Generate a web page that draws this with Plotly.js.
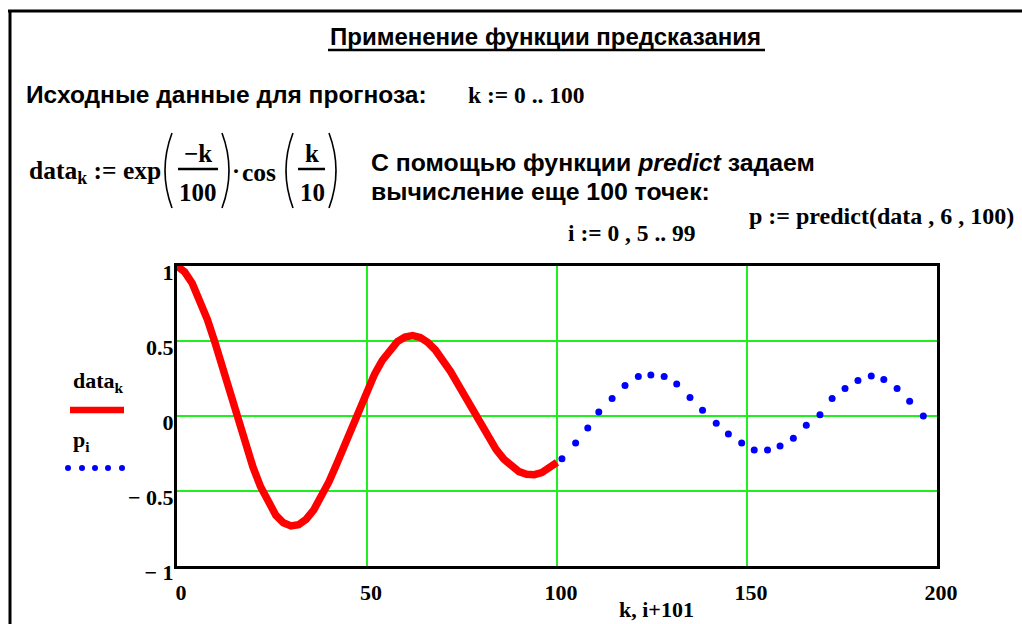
<!DOCTYPE html>
<html>
<head>
<meta charset="utf-8">
<script src="https://cdn.plot.ly/plotly-3.0.1.min.js"></script>
<style>html,body{margin:0;padding:0;background:#fff;}#chart{width:1022px;height:624px;}</style>
</head>
<body>
<div id="chart"></div>
<script>
// ---- data ----
const kValues = [0,2,4,6,8,10,12,14,16,18,20,22,24,26,28,30,32,34,36,38,40,42,44,46,48,50,
  52,54,56,58,60,62,64,66,68,70,72,74,76,78,80,82,84,86,88,90,92,94,96,98,100];
const dataValues = [1.000,0.961,0.885,0.777,0.643,0.489,0.321,0.148,-0.025,-0.190,-0.341,-0.472,
  -0.580,-0.661,-0.712,-0.733,-0.725,-0.688,-0.626,-0.541,-0.438,-0.322,-0.198,-0.071,0.054,0.172,
  0.279,0.370,0.443,0.496,0.527,0.536,0.524,0.491,0.440,0.374,0.296,0.209,0.118,0.025,-0.065,
  -0.149,-0.224,-0.288,-0.337,-0.371,-0.389,-0.391,-0.377,-0.349,-0.309];
const predX = [101.3,104.9,108.1,111.0,114.5,117.9,121.4,124.7,128.2,131.5,135.0,138.3,141.9,145.1,
  148.6,151.9,155.4,158.7,162.2,165.6,169.2,172.4,175.8,179.2,182.7,186.0,189.5,192.8,196.4];
const predValues = [-0.285,-0.180,-0.080,0.027,0.116,0.204,0.264,0.273,0.264,0.213,0.124,0.038,
  -0.049,-0.120,-0.180,-0.227,-0.227,-0.200,-0.149,-0.062,0.009,0.116,0.184,0.236,0.267,0.244,
  0.184,0.098,0.000];
const xTickVals = [0,50,100,150,200];
const xTickText = ['0','50','100','150','200'];
const yTickVals = [-1,-0.5,0,0.5,1];
const yTickText = ['\u2212 1','\u2212 0.5','0','0.5','1'];

// ---- layout helpers (pixel -> paper) ----
const L = 177, R = 937, T = 266, B = 566;
const px = x => (x - L) / (R - L);
const py = y => (B - y) / (B - T);
const SANS = 'Liberation Sans, Arial, sans-serif';
const SERIF = 'Liberation Serif, Times New Roman, serif';

function txt(text, x, y, size, family, xanchor) {
  return {
    text: text, x: px(x), y: py(y), xref: 'paper', yref: 'paper',
    xanchor: xanchor || 'left', yanchor: 'middle', showarrow: false,
    font: {family: family, size: size, color: '#000', weight: 'bold'}
  };
}
function hline(x0, x1, y, w) {
  return {type: 'line', xref: 'paper', yref: 'paper', x0: px(x0), x1: px(x1), y0: py(y), y1: py(y),
    line: {color: '#000', width: w}};
}
function vline(x, y0, y1, w) {
  return {type: 'line', xref: 'paper', yref: 'paper', x0: px(x), x1: px(x), y0: py(y0), y1: py(y1),
    line: {color: '#000', width: w}};
}
function paren(xTop, xMid, yTop, yBot) {
  const yMid = (yTop + yBot) / 2;
  return {type: 'path', xref: 'paper', yref: 'paper',
    path: 'M ' + px(xTop) + ',' + py(yTop) + ' Q ' + px(xMid) + ',' + py(yMid) + ' ' + px(xTop) + ',' + py(yBot),
    line: {color: '#000', width: 1.6}};
}
function dot(x, y, r, color) {
  return {type: 'circle', xref: 'paper', yref: 'paper', x0: px(x - r), x1: px(x + r),
    y0: py(y + r), y1: py(y - r), fillcolor: color, line: {width: 0}};
}

const traces = [
  {x: kValues, y: dataValues, type: 'scatter', mode: 'lines',
   line: {color: '#ff0000', width: 7.5}, hoverinfo: 'skip'},
  {x: predX, y: predValues, type: 'scatter', mode: 'markers',
   marker: {color: '#0000ff', size: 7}, hoverinfo: 'skip'}
];

const shapes = [
  hline(8, 1022, 11, 3),
  vline(10, 10, 624, 3),
  hline(328, 765, 50, 2.5),
  paren(172, 158, 133, 208),
  paren(222, 236, 133, 208),
  hline(178, 218, 169, 2.5),
  paren(293, 279, 133, 208),
  paren(329, 343, 133, 208),
  hline(298, 325, 169, 2.5),
  {type: 'line', xref: 'paper', yref: 'paper', x0: px(70), x1: px(124), y0: py(410), y1: py(410),
   line: {color: '#ff0000', width: 6.5}},
  dot(68, 468, 3, '#0000ff'), dot(82, 468, 3, '#0000ff'), dot(95, 468, 3, '#0000ff'),
  dot(108, 468, 3, '#0000ff'), dot(122, 468, 3, '#0000ff')
];

const annotations = [
  txt('Применение функции предсказания', 328, 37, 24, SANS),
  txt('Исходные данные для прогноза:', 24, 95, 24.5, SANS),
  txt('k := 0 .. 100', 466, 95, 23.5, SERIF),
  txt('data<sub>k</sub> := exp', 27, 172, 25.5, SERIF),
  txt('\u2212k', 198, 153, 25, SERIF, 'center'),
  txt('100', 198, 192, 25, SERIF, 'center'),
  txt('\u00b7', 236, 171, 24, SERIF, 'center'),
  txt('cos', 240, 172, 25.5, SERIF),
  txt('k', 312, 153, 25, SERIF, 'center'),
  txt('10', 312, 192, 25, SERIF, 'center'),
  txt('С помощью функции <i>predict</i> задаем', 369, 162, 24.8, SANS),
  txt('вычисление еще 100 точек:', 369, 191, 24.8, SANS),
  txt('p := predict(data , 6 , 100)', 747, 216, 24, SERIF),
  txt('i := 0 , 5 .. 99', 566, 233, 23.5, SERIF),
  txt('data<sub>k</sub>', 71, 382, 22, SERIF),
  txt('p<sub>i</sub>', 71, 441, 22, SERIF),
  txt('k, i+101', 656, 609, 22, SERIF, 'center')
];

const axisFont = {family: SERIF, size: 22, color: '#000', weight: 'bold'};
const layout = {
  width: 1022, height: 624,
  margin: {l: L, r: 1022 - R, t: T, b: 624 - B, pad: 0},
  paper_bgcolor: '#ffffff', plot_bgcolor: '#ffffff',
  showlegend: false,
  xaxis: {range: [0, 200], tickvals: xTickVals, ticktext: xTickText, tickfont: axisFont,
    showgrid: true, gridcolor: '#1fee1f', gridwidth: 1.2, zeroline: false,
    showline: true, mirror: true, linecolor: '#000', linewidth: 3, ticks: '',
    ticklabelstandoff: 5, ticklabelshift: 4, fixedrange: true},
  yaxis: {range: [-1, 1], tickvals: yTickVals, ticktext: yTickText, tickfont: axisFont,
    showgrid: true, gridcolor: '#1fee1f', gridwidth: 1.2, zeroline: false,
    showline: true, mirror: true, linecolor: '#000', linewidth: 3, ticks: '',
    ticklabelstandoff: -4, ticklabelshift: 6, fixedrange: true},
  shapes: shapes,
  annotations: annotations
};

Plotly.newPlot('chart', traces, layout, {staticPlot: true, displayModeBar: false});
</script>
</body>
</html>
